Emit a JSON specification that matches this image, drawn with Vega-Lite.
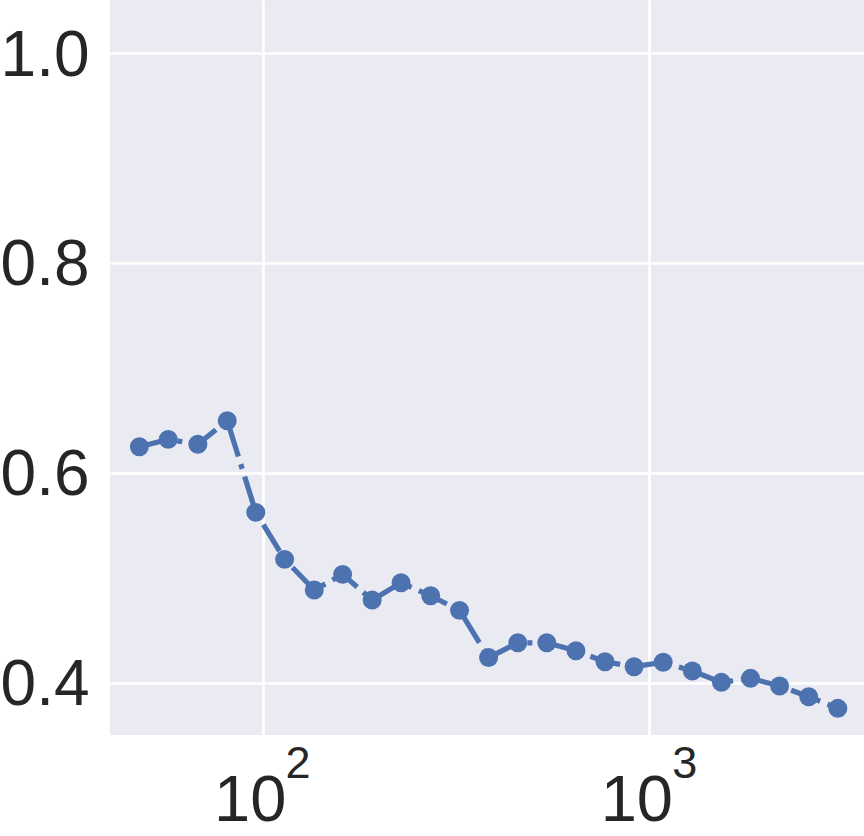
{
  "$schema": "https://vega.github.io/schema/vega-lite/v6.json",
  "width": 754,
  "height": 735,
  "autosize": {"type": "none"},
  "padding": {"left": 110, "top": 0, "right": 0, "bottom": 101},
  "background": "white",
  "config": {
    "view": {"fill": "#EAEAF2", "stroke": null},
    "axis": {"domain": false, "ticks": false, "gridColor": "white", "gridWidth": 2.7, "labelColor": "#262626", "title": null, "labelOverlap": false, "labelFlush": false}
  },
  "data": {
    "values": [
      {"n": 48, "score": 0.6248},
      {"n": 57, "score": 0.6318},
      {"n": 68, "score": 0.6271},
      {"n": 81, "score": 0.6496},
      {"n": 96, "score": 0.5622},
      {"n": 114, "score": 0.5174},
      {"n": 136, "score": 0.4882},
      {"n": 161, "score": 0.5031},
      {"n": 192, "score": 0.4786},
      {"n": 228, "score": 0.4951},
      {"n": 272, "score": 0.4827},
      {"n": 323, "score": 0.4688},
      {"n": 384, "score": 0.4238},
      {"n": 457, "score": 0.4379},
      {"n": 543, "score": 0.4379},
      {"n": 646, "score": 0.4303},
      {"n": 768, "score": 0.4198},
      {"n": 913, "score": 0.4151},
      {"n": 1086, "score": 0.4193},
      {"n": 1292, "score": 0.411},
      {"n": 1536, "score": 0.4002},
      {"n": 1827, "score": 0.404},
      {"n": 2172, "score": 0.3967},
      {"n": 2583, "score": 0.3865},
      {"n": 3072, "score": 0.3754}
    ]
  },
  "encoding": {
    "y": {
      "field": "score", "type": "quantitative",
      "scale": {"domain": [0.35, 1.0506], "zero": false, "nice": false},
      "axis": {"values": [0.4, 0.6, 0.8, 1.0], "format": ".1f", "labelFont": "Liberation Sans", "labelFontSize": 64, "labelPadding": 21, "labelOffset": 3, "grid": true}
    }
  },
  "layer": [
    {
      "mark": {"type": "line", "color": "#4C72B0", "strokeWidth": 5.2, "strokeDash": [31, 8, 5, 8], "strokeCap": "butt"},
      "encoding": {
        "x": {
          "field": "n", "type": "quantitative",
          "scale": {"type": "log", "domain": [40.3, 3590], "nice": false},
          "axis": {"orient": "bottom", "values": [100, 1000], "labelExpr": "'10'", "labelFont": "Liberation Sans", "labelFontSize": 65, "labelPadding": 34, "labelOffset": -13, "grid": true}
        }
      }
    },
    {
      "mark": {"type": "point", "filled": true, "opacity": 1, "color": "#4C72B0", "size": 360, "shape": "circle"},
      "encoding": {
        "x": {
          "field": "n", "type": "quantitative",
          "scale": {"type": "log", "domain": [40.3, 3590], "nice": false},
          "axis": {"orient": "bottom", "values": [100, 1000], "labelExpr": "datum.value < 500 ? '2' : '3'", "labelFont": "Liberation Sans", "labelFontSize": 45, "labelPadding": 6, "labelOffset": 35, "grid": false}
        }
      }
    }
  ],
  "resolve": {"axis": {"x": "independent"}}
}
